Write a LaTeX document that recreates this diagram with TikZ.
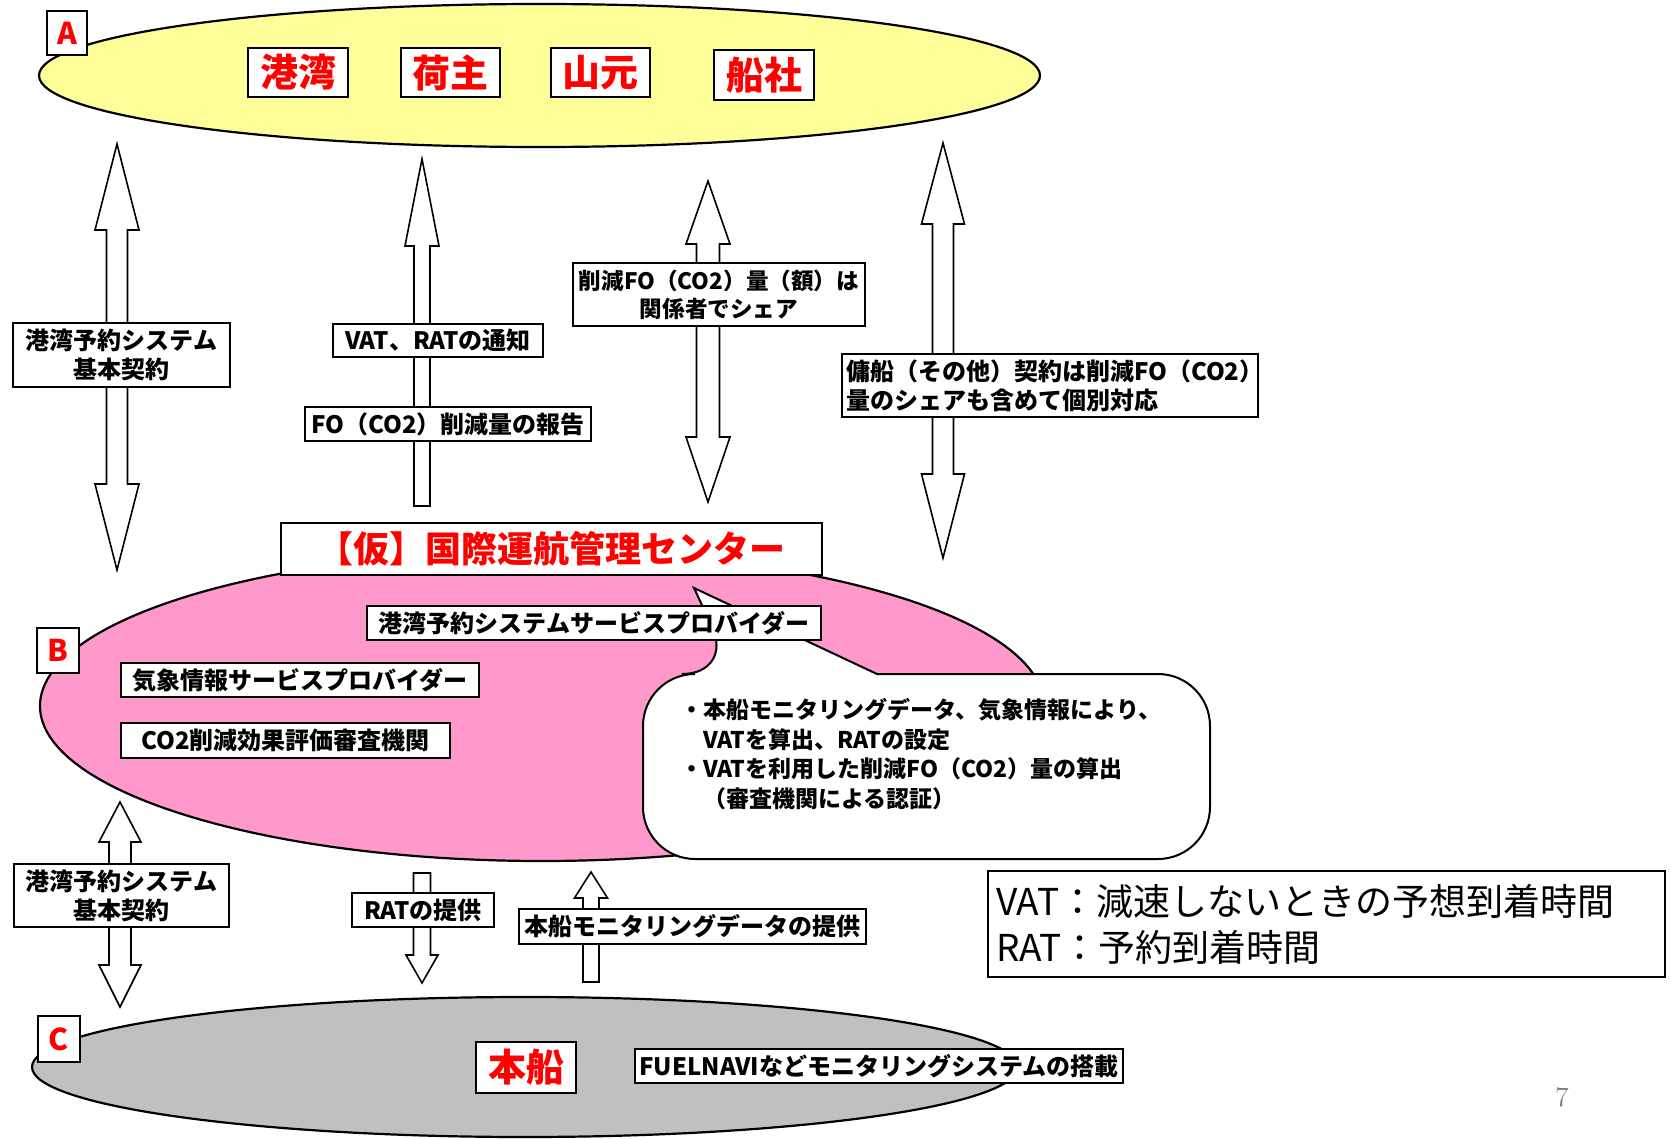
\documentclass[tikz,border=0pt]{standalone}
\usepackage{fontspec}
\newfontfamily\jp{Noto Sans CJK JP}
\definecolor{ellA}{HTML}{FFFF99}
\definecolor{ellB}{HTML}{FF99CC}
\definecolor{ellC}{HTML}{C0C0C0}
\newcommand{\myDbl}[7]{% c, top tip, bottom tip, head half width, shaft half width, top head len, bottom head len
 \draw[barrow] (#1,#2) -- ({#1+#4},{#2+#6}) -- ({#1+#5},{#2+#6}) -- ({#1+#5},{#3-#7}) -- ({#1+#4},{#3-#7}) -- (#1,#3) -- ({#1-#4},{#3-#7}) -- ({#1-#5},{#3-#7}) -- ({#1-#5},{#2+#6}) -- ({#1-#4},{#2+#6}) -- cycle;}
\newcommand{\myUp}[6]{% c, tip, bottom, hw, sw, hl
 \draw[barrow] (#1,#2) -- ({#1+#4},{#2+#6}) -- ({#1+#5},{#2+#6}) -- ({#1+#5},#3) -- ({#1-#5},#3) -- ({#1-#5},{#2+#6}) -- ({#1-#4},{#2+#6}) -- cycle;}
\newcommand{\myDown}[6]{% c, top, tip, hw, sw, hl
 \draw[barrow] ({#1-#5},#2) -- ({#1+#5},#2) -- ({#1+#5},{#3-#6}) -- ({#1+#4},{#3-#6}) -- (#1,#3) -- ({#1-#4},{#3-#6}) -- ({#1-#5},{#3-#6}) -- cycle;}
\begin{document}
\begin{tikzpicture}[x=0.5pt,y=-0.5pt,
  lbl/.style={draw=black, line width=0.9pt, fill=white, inner sep=0pt, align=center,
    font=\jp\bfseries\fontsize{12}{14.5}\selectfont},
  redlbl/.style={lbl, text=red, font=\jp\bfseries\fontsize{19}{22}\selectfont},
  letter/.style={lbl, text=red, font=\jp\bfseries\fontsize{15}{18}\selectfont},
  barrow/.style={draw=black, fill=white, line width=0.8pt, line join=miter},
  blob/.style={draw=black, line width=1.1pt}]
\useasboundingbox (0,0) rectangle (1671,1139);
\fill[white] (0,0) rectangle (1671,1139);

% ellipses
\draw[blob, fill=ellA] (539.5,75.5) ellipse [x radius=250.25pt, y radius=35.75pt];
\draw[blob, fill=ellB] (542,706) ellipse [x radius=251pt, y radius=77.5pt];
\draw[blob, fill=ellC] (525,1067) ellipse [x radius=246.5pt, y radius=35pt];

% group A
\node[letter, minimum width=20pt, minimum height=22pt] (la) at (67,33) {A};
\node[redlbl, minimum width=50pt, minimum height=24.5pt] (kowan) at (298,72.5) {港湾};
\node[redlbl, minimum width=49.5pt, minimum height=24.5pt] (ninushi) at (450.5,72.5) {荷主};
\node[redlbl, minimum width=49.5pt, minimum height=24.5pt] (yamamoto) at (600.5,72.5) {山元};
\node[redlbl, minimum width=50pt, minimum height=25pt] (senja) at (764,75) {船社};

% upper arrows
\myDbl{117}{144}{570}{22}{10.5}{86}{86}
\myUp{422}{159}{506}{17}{8}{87}
\myDbl{708}{181}{502}{22}{11.5}{63}{65}
\myDbl{943}{143}{558}{21.5}{10.5}{81}{84}

% upper labels
\node[lbl, minimum width=108.5pt, minimum height=32pt] (l1) at (121.5,355) {港湾予約システム\\基本契約};
\node[lbl, minimum width=105pt, minimum height=16.5pt] (l2) at (438,340.5) {VAT、RATの通知};
\node[lbl, minimum width=143pt, minimum height=17pt] (l3) at (448,424) {FO（CO2）削減量の報告};
\node[lbl, font=\jp\bfseries\fontsize{11.3}{14}\selectfont, minimum width=146pt, minimum height=31.5pt] (l4) at (719,294.5) {削減FO（CO2）量（額）は\\関係者でシェア};
\node[lbl, minimum width=208pt, minimum height=31.5pt, align=left, text width=204pt, inner xsep=2pt] (l5) at (1050,385.5) {傭船（その他）契約は削減FO（CO2）\\量のシェアも含めて個別対応};

% callout
\draw[draw=black, line width=1pt, fill=white] (734,674) -- (694,588) -- (877,674) [rounded corners=26pt] -- (1210,674) -- (1210,859) -- (643,859) -- (643,674) -- cycle;
\node[anchor=west, align=left, inner sep=0pt, font=\jp\bfseries\fontsize{11.5}{14.75}\selectfont] (ctext) at (680,754)
 {・本船モニタリングデータ、気象情報により、\\\hphantom{・}VATを算出、RATの設定\\・VATを利用した削減FO（CO2）量の算出\\\hphantom{・}（審査機関による認証）};

% group B
\node[lbl, text=red, font=\jp\bfseries\fontsize{18}{22}\selectfont, minimum width=270.5pt, minimum height=26pt] (center) at (551.5,549) {【仮】国際運航管理センター};
\node[letter, minimum width=21pt, minimum height=22.5pt] (lb) at (58,650.5) {B};
\node[lbl, minimum width=227pt, minimum height=17pt] (s1) at (594,623) {港湾予約システムサービスプロバイダー};
\node[lbl, minimum width=179pt, minimum height=17pt] (s2) at (300,680) {気象情報サービスプロバイダー};
\node[lbl, minimum width=164.5pt, minimum height=17.5pt] (s3) at (285.5,740.5) {CO2削減効果評価審査機関};

% lower arrows
\myDbl{120}{802}{1007}{21}{11}{40}{42}
\myDown{422}{873}{983}{16}{8.5}{28}
\myUp{591}{872}{982}{16.5}{8}{26}

% lower labels
\node[lbl, minimum width=107.5pt, minimum height=31.5pt] (l6) at (121.5,895.5) {港湾予約システム\\基本契約};
\node[lbl, minimum width=71pt, minimum height=17pt] (l7) at (423,910) {RATの提供};
\node[lbl, minimum width=173.5pt, minimum height=17.5pt] (l8) at (692.5,926.5) {本船モニタリングデータの提供};

% legend
\node[draw=black, line width=1pt, fill=white, minimum width=338.5pt, minimum height=53pt, text width=330.5pt, inner xsep=4pt, align=left, font=\jp\fontsize{18.5}{23}\selectfont] (legend) at (1326.5,924) {VAT：減速しないときの予想到着時間\\RAT：予約到着時間};

% group C
\node[letter, minimum width=21pt, minimum height=23pt] (lc) at (59,1039) {C};
\node[redlbl, minimum width=50pt, minimum height=25.5pt] (honsen) at (526,1067.5) {本船};
\node[lbl, minimum width=244pt, minimum height=17pt] (l9) at (879,1066) {FUELNAVIなどモニタリングシステムの搭載};

% page number
\node[text=gray, font=\fontsize{14}{16}\selectfont, inner sep=0pt] (pg) at (1562,1097) {7};
\end{tikzpicture}
\end{document}
